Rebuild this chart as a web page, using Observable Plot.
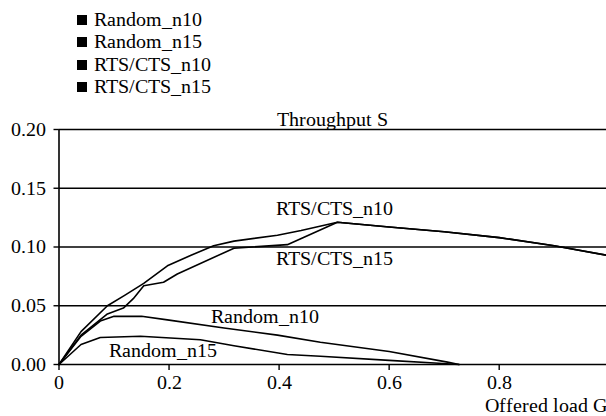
<!DOCTYPE html>
<html>
<head>
<meta charset="utf-8">
<script src="https://cdn.jsdelivr.net/npm/d3@7"></script>
<script src="https://cdn.jsdelivr.net/npm/@observablehq/plot@0.6"></script>
<style>
  @font-face { font-family: "RefSerif"; src: local("Liberation Serif"), local("LiberationSerif"), local("LiberationSerif-Regular"), local("Tinos"), local("Times New Roman"); }
  body { margin: 0; font-size: 20px; font-family: "RefSerif", "Liberation Serif" !important; }
  .lg { height: 96px; box-sizing: border-box; padding-top: 8px; padding-left: 77px; font-family: "RefSerif", "Liberation Serif" !important; }
  .row { height: 22.4px; line-height: 22.4px; white-space: nowrap; font-family: "RefSerif", "Liberation Serif" !important; }
  .sw { display: inline-block; width: 10px; height: 10px; background: #000; margin-right: 7px; vertical-align: 1px; }
  #chart svg text { font-family: "RefSerif", "Liberation Serif" !important; }
</style>
</head>
<body>
<div id="legend" class="lg"></div>
<div id="chart"></div>
<script>
const seriesNames = ["Random_n10", "Random_n15", "RTS/CTS_n10", "RTS/CTS_n15"];

const randomN10X = [0, 0.04, 0.075, 0.1, 0.15, 0.197, 0.3, 0.397, 0.475, 0.6, 0.706, 0.727];
const randomN10Y = [0, 0.024, 0.037, 0.041, 0.041, 0.038, 0.031, 0.025, 0.019, 0.011, 0.002, 0.0];

const randomN15X = [0, 0.04, 0.075, 0.148, 0.257, 0.318, 0.415, 0.475, 0.6, 0.69, 0.727];
const randomN15Y = [0, 0.017, 0.023, 0.024, 0.021, 0.016, 0.0085, 0.007, 0.0035, 0.001, 0];

const rtsN10X = [0, 0.04, 0.088, 0.12, 0.154, 0.197, 0.24, 0.281, 0.318, 0.397, 0.44, 0.506, 0.6, 0.7, 0.8, 0.9, 0.995];
const rtsN10Y = [0, 0.028, 0.050, 0.059, 0.069, 0.084, 0.093, 0.101, 0.105, 0.110, 0.114, 0.121, 0.117, 0.113, 0.108, 0.101, 0.093];

const rtsN15X = [0, 0.04, 0.088, 0.117, 0.135, 0.154, 0.19, 0.215, 0.318, 0.415, 0.506, 0.6, 0.7, 0.8, 0.9, 0.995];
const rtsN15Y = [0, 0.025, 0.043, 0.048, 0.056, 0.067, 0.070, 0.077, 0.099, 0.102, 0.121, 0.117, 0.113, 0.108, 0.101, 0.093];

const xTicks = [0, 0.2, 0.4, 0.6, 0.8];
const yTicks = [0, 0.05, 0.10, 0.15, 0.20];
const gridLevels = [0.05, 0.10, 0.15, 0.20];

const labelNames = ["RTS/CTS_n10", "RTS/CTS_n15", "Random_n10", "Random_n15"];
const labelX = [0.5, 0.5, 0.375, 0.189];
const labelY = [0.133, 0.090, 0.041, 0.012];

const yTitle = "Throughput S";
const xTitle = "Offered load G";

const serif = '"RefSerif", "Liberation Serif"';

// legend
const legend = document.getElementById("legend");
for (const name of seriesNames) {
  const row = document.createElement("div");
  row.className = "row";
  const sw = document.createElement("span");
  sw.className = "sw";
  row.appendChild(sw);
  row.appendChild(document.createTextNode(name));
  legend.appendChild(row);
}

const xs = [randomN10X, randomN15X, rtsN10X, rtsN15X];
const ys = [randomN10Y, randomN15Y, rtsN10Y, rtsN15Y];
const rows = [];
seriesNames.forEach((s, i) => xs[i].forEach((x, j) => rows.push({series: s, x, y: ys[i][j]})));
const labels = labelNames.map((t, i) => ({t, x: labelX[i], y: labelY[i]}));

const chart = Plot.plot({
  width: 606,
  height: 320,
  marginTop: 33,
  marginBottom: 52,
  marginLeft: 58.5,
  marginRight: 0,
  style: {fontFamily: serif, fontSize: "20px", color: "#000", background: "#fff", overflow: "visible"},
  x: {domain: [0, 0.995]},
  y: {domain: [0, 0.2]},
  marks: [
    Plot.ruleY(gridLevels, {stroke: "#000", strokeWidth: 1.4}),
    Plot.ruleY([0], {stroke: "#000", strokeWidth: 1.6}),
    Plot.ruleX([0], {y1: 0, y2: 0.2, stroke: "#000", strokeWidth: 1.6}),
    Plot.axisY({ticks: yTicks, tickFormat: d3.format(".2f"), tickSize: 5, tickPadding: 8, label: null, stroke: "#000", strokeWidth: 1.4, fill: "#000", fontSize: 20, fontFamily: serif}),
    Plot.axisX({ticks: xTicks, tickFormat: d => d === 0 ? "0" : d.toFixed(1), tickSize: 6, tickPadding: 4, label: null, stroke: "#000", strokeWidth: 1.4, fill: "#000", fontSize: 20, fontFamily: serif}),
    Plot.line(rows, {x: "x", y: "y", z: "series", stroke: "#000", strokeWidth: 1.6}),
    Plot.text(labels, {x: "x", y: "y", text: "t", fill: "#000", fontSize: 20, fontFamily: serif, lineAnchor: "middle", textAnchor: "middle"}),
    Plot.text([yTitle], {frameAnchor: "top", text: d => d, lineAnchor: "bottom", dy: -4, fill: "#000", fontSize: 20, fontFamily: serif}),
    Plot.text([xTitle], {frameAnchor: "bottom-right", text: d => d, textAnchor: "end", lineAnchor: "bottom", dy: 47, fill: "#000", fontSize: 20, fontFamily: serif})
  ]
});
document.getElementById("chart").appendChild(chart);
</script>
</body>
</html>
